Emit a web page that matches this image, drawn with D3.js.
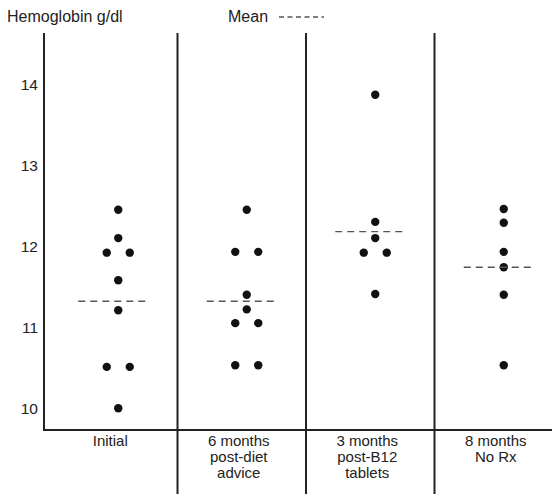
<!DOCTYPE html>
<html lang="en">
<head>
<meta charset="UTF-8">
<title>Hemoglobin dot plot</title>
<script src="https://d3js.org/d3.v7.min.js"></script>
<style>
  body { margin: 0; background: #fff; }
  text { font-family: "Liberation Sans", Arial, sans-serif; font-size: 15px; fill: #222; }
  .head { font-size: 16px; }
</style>
</head>
<body>
<div id="chart"></div>
<script>
// data
const categories = ["Initial", "6 months post-diet advice", "3 months post-B12 tablets", "8 months No Rx"];
const categoryLines = [["Initial"], ["6 months", "post-diet", "advice"], ["3 months", "post-B12", "tablets"], ["8 months", "No Rx"]];
const initialValues = [12.46, 12.11, 11.93, 11.93, 11.59, 11.22, 10.52, 10.52, 10.01];
const dietValues = [12.46, 11.94, 11.94, 11.41, 11.23, 11.06, 11.06, 10.54, 10.54];
const b12Values = [13.88, 12.31, 12.11, 11.93, 11.93, 11.42];
const noRxValues = [12.47, 12.30, 11.94, 11.75, 11.41, 10.54];
const meanValues = [11.33, 11.33, 12.19, 11.75];
const yTicks = [10, 11, 12, 13, 14];

const groups = [initialValues, dietValues, b12Values, noRxValues];

const w = 552, h = 494;
const plotTop = 33, plotBottom = 430, plotLeft = 44;

const svg = d3.select("#chart").append("svg")
  .attr("width", w)
  .attr("height", h);

const x = d3.scaleBand()
  .domain(categories)
  .range([49, 563]);

const y = d3.scaleLinear()
  .domain([10, 14])
  .range([409, 85]);

// frame: left axis, baseline and column dividers
svg.append("line")
  .attr("x1", plotLeft).attr("x2", plotLeft)
  .attr("y1", plotTop).attr("y2", plotBottom)
  .attr("stroke", "#222").attr("stroke-width", 2);

svg.append("line")
  .attr("x1", plotLeft - 1).attr("x2", w)
  .attr("y1", plotBottom).attr("y2", plotBottom)
  .attr("stroke", "#222").attr("stroke-width", 2);

svg.selectAll(".divider")
  .data(categories.slice(1))
  .enter()
  .append("line")
  .attr("class", "divider")
  .attr("x1", d => x(d)).attr("x2", d => x(d))
  .attr("y1", plotTop).attr("y2", h)
  .attr("stroke", "#222").attr("stroke-width", 2);

// y axis labels
const yAxis = d3.axisLeft(y)
  .tickValues(yTicks)
  .tickSize(0)
  .tickPadding(6)
  .tickFormat(d3.format("d"));

svg.append("g")
  .attr("transform", "translate(" + plotLeft + ",0)")
  .call(yAxis)
  .call(g => g.select(".domain").remove())
  .attr("font-size", null)
  .attr("font-family", null)
  .selectAll("text")
  .style("font-size", "15.5px")
  .style("fill", "#222");

// category labels
const catLabels = svg.selectAll(".cat")
  .data(categories)
  .enter()
  .append("text")
  .attr("class", "cat")
  .attr("text-anchor", "middle")
  .attr("x", d => x(d) + x.bandwidth() / 2 - 3)
  .attr("y", 446);

catLabels.selectAll("tspan")
  .data((d, i) => categoryLines[i])
  .enter()
  .append("tspan")
  .attr("x", function () { return d3.select(this.parentNode).attr("x"); })
  .attr("dy", (d, i) => i === 0 ? 0 : 16)
  .text(d => d);

// dots: equal values within a group are set side by side
const spread = 11.5;
const points = [];
groups.forEach((vals, gi) => {
  const seen = {};
  vals.forEach(v => {
    const n = vals.filter(o => o === v).length;
    const k = seen[v] || 0;
    seen[v] = k + 1;
    const off = n > 1 ? (k - (n - 1) / 2) * 2 : 0;
    points.push({ cat: categories[gi], value: v, off: off });
  });
});

svg.selectAll(".dot")
  .data(points)
  .enter()
  .append("circle")
  .attr("class", "dot")
  .attr("cx", d => x(d.cat) + x.bandwidth() / 2 + 5 + d.off * spread)
  .attr("cy", d => y(d.value))
  .attr("r", 4.2)
  .attr("fill", "#111");

// means
svg.selectAll(".mean")
  .data(meanValues)
  .enter()
  .append("line")
  .attr("class", "mean")
  .attr("x1", (d, i) => x(categories[i]) + x.bandwidth() / 2 - 35)
  .attr("x2", (d, i) => x(categories[i]) + x.bandwidth() / 2 + 35)
  .attr("y1", d => y(d))
  .attr("y2", d => y(d))
  .attr("stroke", "#555")
  .attr("stroke-width", 1.3)
  .attr("stroke-dasharray", "7,5");

// titles
svg.append("text")
  .attr("class", "head")
  .attr("x", 7)
  .attr("y", 22)
  .text("Hemoglobin g/dl");

svg.append("text")
  .attr("class", "head")
  .attr("x", 228)
  .attr("y", 22)
  .text("Mean");

svg.append("line")
  .attr("x1", 279).attr("x2", 324)
  .attr("y1", 17).attr("y2", 17)
  .attr("stroke", "#555")
  .attr("stroke-width", 1.3)
  .attr("stroke-dasharray", "5,3.5");
</script>
</body>
</html>
